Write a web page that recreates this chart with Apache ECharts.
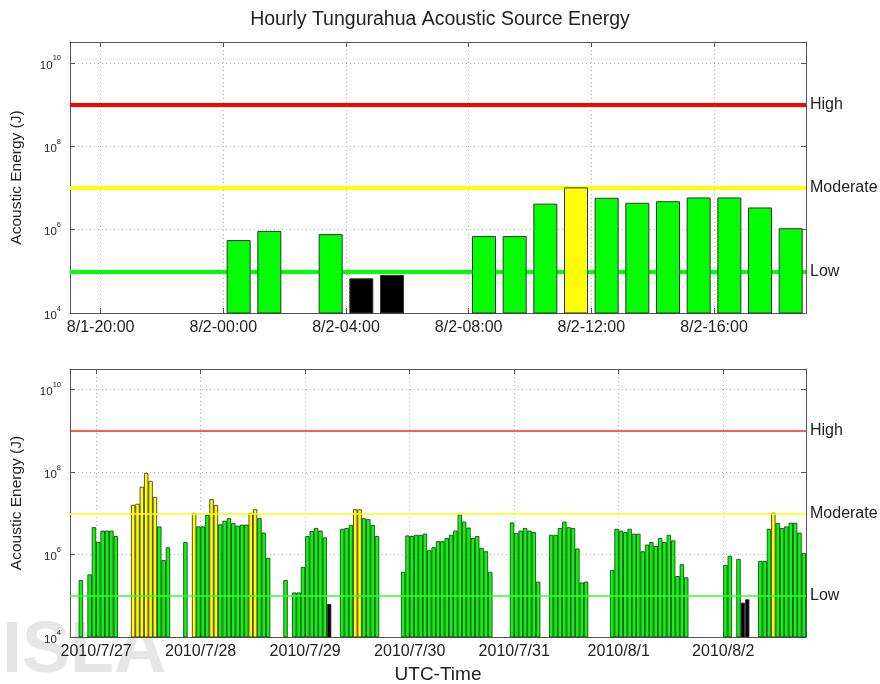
<!DOCTYPE html>
<html><head><meta charset="utf-8">
<script src="https://cdn.jsdelivr.net/npm/echarts@6/dist/echarts.min.js"></script>
<style>html,body{margin:0;padding:0;background:#fff}#c{width:880px;height:684px}</style>
</head><body><div id="c"></div>
<script>
// Hourly acoustic source energy (J), one entry per UTC hour (null = no data)
const day0726 = [null, null, null, null, null, null, null, null, null, null, null, null,
  null, null, null, null, null, null, null, null, 2.4e5, null, 3.3e5, 4.6e6];
const day0727 = [2.0e6, 3.8e6, 3.8e6, 3.8e6, 2.8e6, null, null, null, 1.6e7, 1.7e7, 4.4e7, 9.5e7,
  6.1e7, 2.5e7, 4.8e6, 7.3e5, 1.5e6, null, null, null, 2.0e6, null, 1.02e7, 4.8e6];
const day0728 = [4.8e6, 9.1e6, 2.2e7, 1.6e7, 5.4e6, 6.6e6, 7.6e6, 5.8e6, 5.0e6, 5.3e6, 5.3e6, 1.02e7,
  1.25e7, 7.6e6, 3.4e6, 8.3e5, null, null, null, 2.4e5, null, 1.2e5, 1.2e5, 5.0e5];
const day0729 = [2.8e6, 3.7e6, 4.4e6, 3.8e6, 2.6e6, 6.3e4, null, null, 4.2e6, 4.4e6, 5.2e6, 1.25e7,
  1.25e7, 7.6e6, 7.2e6, 5.2e6, 2.8e6, null, null, null, null, null, 3.8e5, 2.9e6];
const day0730 = [2.8e6, 3.0e6, 3.0e6, 3.2e6, 1.26e6, 1.5e6, 2.1e6, 2.1e6, 2.5e6, 3.0e6, 3.8e6, 9.5e6,
  6.3e6, 4.5e6, 2.5e6, 2.8e6, 1.45e6, 1.2e6, 3.8e5, null, null, null, null, 6.0e6];
const day0731 = [3.3e6, 3.8e6, 4.4e6, 3.8e6, 3.5e6, 2.2e5, null, null, 3.0e6, 3.0e6, 4.4e6, 6.3e6,
  4.6e6, 4.4e6, 1.4e6, 2.1e5, 2.2e5, null, null, null, null, null, 4.2e5, 4.2e6];
const day0801 = [3.8e6, 3.5e6, 4.2e6, 3.2e6, 3.2e6, 1.2e6, 1.74e6, 2.0e6, 1.6e6, 2.5e6, 2.0e6, 3.0e6,
  2.2e6, 3.0e5, 5.8e5, 2.8e5, null, null, null, null, null, null, null, null];
const day0802 = [5.6e5, 9.3e5, null, 7.8e5, 6.8e4, 8.2e4, null, null, 7.0e5, 7.0e5, 4.2e6, 1.03e7,
  5.8e6, 4.4e6, 4.8e6, 5.9e6, 5.9e6, 3.4e6, 1.08e6];

// tick positions (hours) and labels
const topTickHours = [-4, 0, 4, 8, 12, 16];          // hours from 2010/8/2 00:00
const topTickLabels = ['8/1-20:00', '8/2-00:00', '8/2-04:00', '8/2-08:00', '8/2-12:00', '8/2-16:00'];
const weekTickHours = [0, 24, 48, 72, 96, 120, 144]; // hours from 2010/7/27 00:00
const weekTickLabels = ['2010/7/27', '2010/7/28', '2010/7/29', '2010/7/30', '2010/7/31', '2010/8/1', '2010/8/2'];

// alert levels (J)
const levelNames = ['High', 'Moderate', 'Low'];
const levelValues = [1e9, 1e7, 1e5];
const levelColors = ['#ff0000', '#ffff00', '#00ff00'];
const levelColorsThin = ['#ff2020', '#ffff00', '#33ff33'];

const FONT = '"Liberation Sans", Arial, Helvetica, sans-serif';
const TXT = '#222';

// build hourly records: hour offset from 7/27 00:00
const days = [day0726, day0727, day0728, day0729, day0730, day0731, day0801, day0802];
const records = [];
days.forEach((d, di) => d.forEach((v, h) => { if (v != null) records.push({ t: (di - 1) * 24 + h, v: v }); }));

function barColor(v) {
  if (v >= levelValues[0]) return '#ff0000';
  if (v >= levelValues[1]) return '#ffff00';
  if (v >= levelValues[2]) return '#00ff00';
  return '#000000';
}

const weekData = records.map(r => ({ value: [r.t + 0.5, r.v], itemStyle: { color: barColor(r.v) } }));
const dayData = records.filter(r => r.t >= 139).map(r => ({ value: [r.t - 144 + 0.5, r.v], itemStyle: { color: barColor(r.v) } }));

const YMIN = 1e4, YMAX = Math.pow(10, 10.5);
const dotted = { show: true, lineStyle: { color: '#b0b0b0', type: [1, 3], width: 1 } };

function yLabelFmt(v) {
  const e = Math.log10(v), r = Math.round(e);
  if (Math.abs(e - r) > 1e-6 || r % 2 !== 0) return '';
  return '{b|10}{e|' + r + '}';
}

function yAxes(gi) {
  return [{
    gridIndex: gi, type: 'log', logBase: 10, min: YMIN, max: YMAX, interval: 2,
    name: 'Acoustic Energy (J)', nameLocation: 'middle', nameGap: 45,
    nameTextStyle: { fontFamily: FONT, fontSize: 15.5, color: TXT },
    axisLine: { show: true, onZero: false, lineStyle: { color: '#555' } },
    axisTick: { show: true, inside: true, length: 5, lineStyle: { color: '#555' } },
    axisLabel: {
      formatter: yLabelFmt, margin: 9, color: TXT,
      rich: {
        b: { fontFamily: FONT, fontSize: 11.5, color: TXT, verticalAlign: 'bottom', lineHeight: 17 },
        e: { fontFamily: FONT, fontSize: 7.5, color: TXT, verticalAlign: 'top', lineHeight: 17 }
      }
    },
    splitLine: dotted
  }, {
    gridIndex: gi, type: 'log', logBase: 10, min: YMIN, max: YMAX, interval: 2, position: 'right',
    axisLine: { show: true, onZero: false, lineStyle: { color: '#555' } },
    axisTick: { show: true, inside: true, length: 5, lineStyle: { color: '#555' } },
    axisLabel: { show: false }, splitLine: { show: false }
  }];
}

function xAxes(gi, min, max, ticks, labels, extra) {
  return [Object.assign({
    gridIndex: gi, type: 'value', min: min, max: max,
    axisLine: { show: true, onZero: false, lineStyle: { color: '#555' } },
    axisTick: { show: true, inside: true, length: 5, customValues: ticks, lineStyle: { color: '#555' } },
    axisLabel: {
      customValues: ticks, margin: 7, fontFamily: FONT, fontSize: 16, color: TXT,
      formatter: v => { const i = ticks.indexOf(v); return i >= 0 ? labels[i] : ''; }
    },
    splitLine: dotted
  }, extra || {}), {
    gridIndex: gi, type: 'value', min: min, max: max, position: 'top',
    axisLine: { show: true, onZero: false, lineStyle: { color: '#555' } },
    axisTick: { show: true, inside: true, length: 5, customValues: ticks, lineStyle: { color: '#555' } },
    axisLabel: { show: false }, splitLine: { show: false }
  }];
}

function levelLines(width, z, colors) {
  return {
    silent: true, symbol: ['none', 'none'], z: z, animation: false,
    data: levelNames.map((n, i) => ({
      yAxis: levelValues[i], name: n,
      lineStyle: { color: colors[i], width: width, type: 'solid' },
      label: { show: true, position: 'end', formatter: n, distance: 4, fontFamily: FONT, fontSize: 16, color: TXT }
    }))
  };
}

const chart = echarts.init(document.getElementById('c'), null, { renderer: 'canvas' });
chart.setOption({
  animation: false,
  backgroundColor: '#fff',
  title: {
    text: 'Hourly Tungurahua Acoustic Source Energy', left: 'center', top: 5,
    textStyle: { fontFamily: FONT, fontSize: 19.5, fontWeight: 'normal', color: TXT }
  },
  grid: [
    { left: 70, right: 74, top: 42, height: 271, containLabel: false, outerBoundsMode: 'none' },
    { left: 70, right: 74, top: 369, height: 268, containLabel: false, outerBoundsMode: 'none' }
  ],
  xAxis: [].concat(
    xAxes(0, -5, 19, topTickHours, topTickLabels),
    xAxes(1, -6, 163, weekTickHours, weekTickLabels, {
      name: 'UTC-Time', nameLocation: 'middle', nameGap: 28,
      nameTextStyle: { fontFamily: FONT, fontSize: 19, color: TXT }
    })
  ),
  yAxis: [].concat(yAxes(0), yAxes(1)),
  series: [{
    type: 'bar', xAxisIndex: 0, yAxisIndex: 0, data: dayData, barWidth: 24, clip: true, z: 3,
    itemStyle: { borderColor: '#333', borderWidth: 1 },
    markLine: levelLines(4, 1, levelColors)
  }, {
    type: 'bar', xAxisIndex: 2, yAxisIndex: 2, data: weekData, barWidth: 4.36, clip: true, z: 3,
    itemStyle: { borderColor: '#2a2a2a', borderWidth: 0.8 },
    markLine: levelLines(1.5, 5, levelColorsThin)
  }],
  graphic: [{
    type: 'text', left: 2, top: 616, z: -1, silent: true,
    style: { text: 'ISLA', fontFamily: FONT, fontSize: 72, fontWeight: 'bold', fill: '#e6e6e6' }
  }]
});
</script></body></html>
